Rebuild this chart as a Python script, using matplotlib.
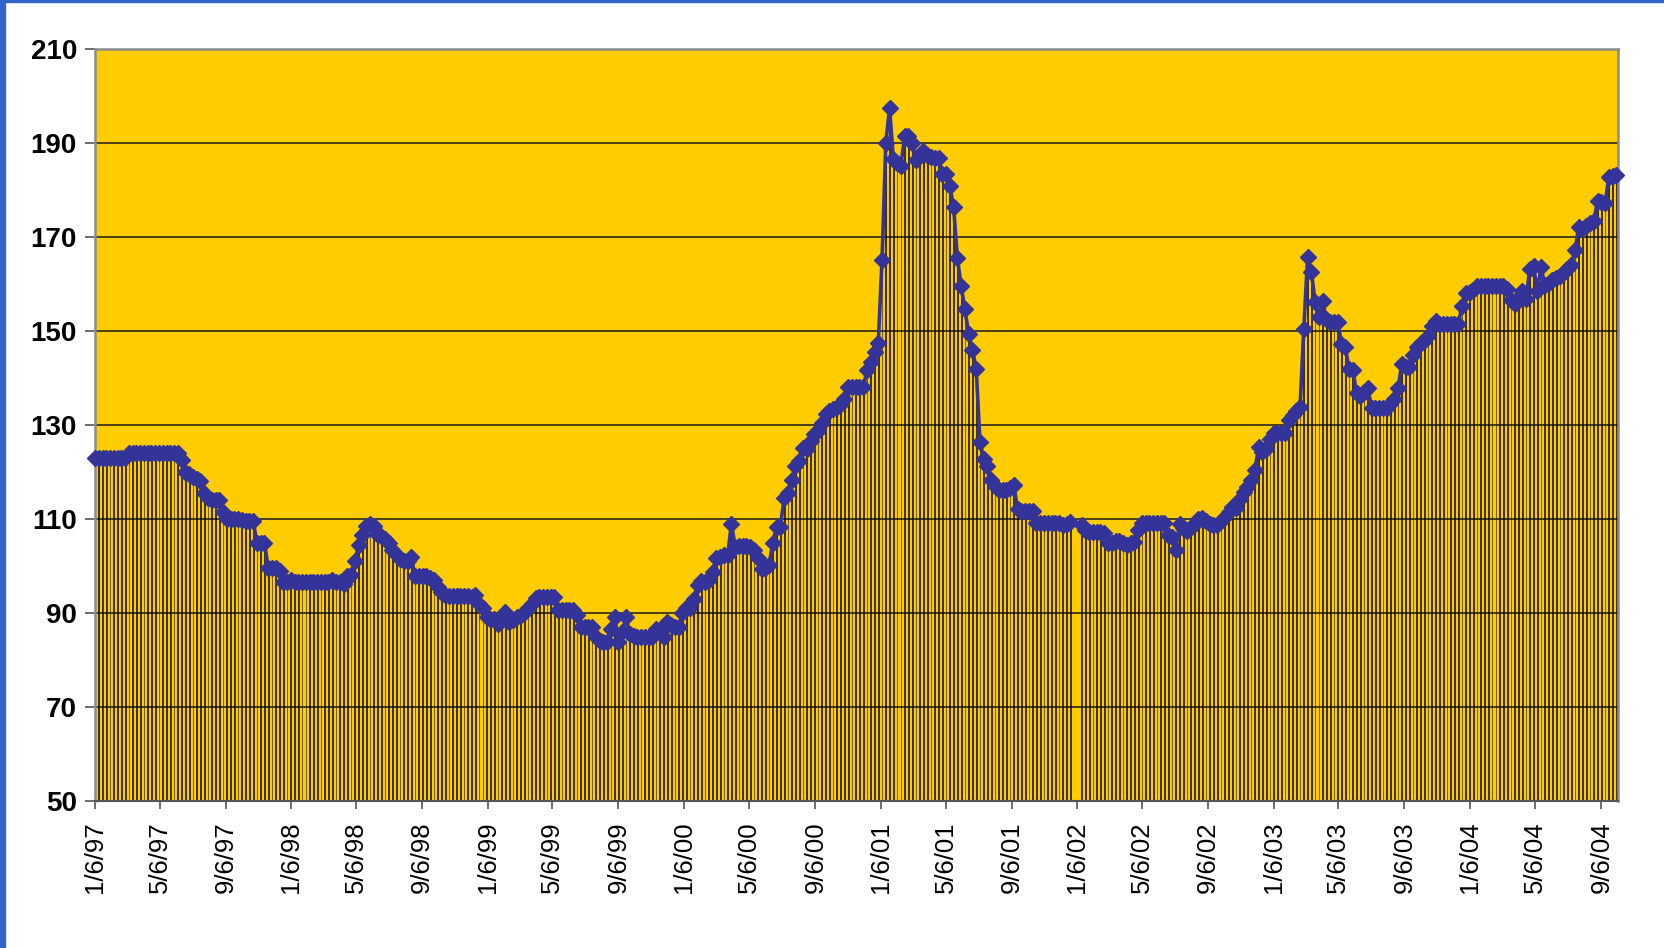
import numpy as np
import pandas as pd
import matplotlib
matplotlib.use("Agg")
import matplotlib.pyplot as plt
from matplotlib.patches import Rectangle

plt.rcParams['font.family'] = ['Liberation Sans', 'DejaVu Sans']

# weekly series starting Monday 1/6/97 (None = week with no data)
start_date = "1997-01-06"
values = [
    123, 123, 123, 123, 123, 123, 123, 123, 123, 124,
    124, 124, 124, 124, 124, 124, 124, 124, 124, 124,
    124, 124, 124, 122.5, 120, 119.5, 119, 118.5, 118, 115.5,
    114.5, 114, 114, 114, 111.5, 110, 110, 110, 110, 109.8,
    109.5, 109.5, 109.5, 105, 105, 105, 99.5, 99.5, 99.5, 99,
    96.5, 96.5, 97, 96.5, 96.5, 96.5, 96.5, 96.5, 96.5, 96.5,
    96.5, 96.5, 96.5, 97, 96.5, 96.5, 96.2, 97.8, 98, 101,
    104.4, 106.5, 108.5, 109, 108.5, 106.8, 106.4, 105.8, 104.8, 103.5,
    102.5, 101.5, 101, 101, 102, 97.8, 97.9, 97.9, 97.9, 97.5,
    97, 95.5, 94.5, 93.8, 93.6, 93.6, 93.6, 93.6, 93.6, 93.6,
    93.5, 93.8, 92, 91, 89.1, 88.8, 88.8, 87.7, 88.5, 90.2,
    88.1, 88.5, 89.1, 89.5, 90, 91, 92, 93.1, 93.5, 93.5,
    93.5, 93.5, 93.5, 90.7, 90.6, 90.6, 90.6, 90.6, 89.5, 87.1,
    87, 87, 87, 84.8, 84, 83.8, 83.8, 86.6, 89.1, 83.8,
    85.9, 89.1, 85.6, 85.2, 85, 85, 85, 85, 85, 86.6,
    86.3, 84.9, 88.1, 87.5, 87, 87, 89.9, 91.1, 91, 93,
    96, 96.8, 96.6, 97, 98.8, 101.8, 102, 102.3, 102.3, 109,
    104.1, 104.3, 104.3, 104.3, 104, 103.4, 101.6, 99.3, 99.5, 100.2,
    105, 108.4, 108.4, 114.5, 115.5, 118.4, 121.2, 122.3, 125.2, 124.8,
    126.5, 128, 128.7, 130.5, 132.3, 133, 133.5, 133.9, 134.5, 135.5,
    138, 138, 138, 138, 138, 141.6, 143.4, 145.5, 147.5, 165.2,
    190, 197.5, 186.5, 185.8, 185.2, 191.4, 191.4, 190, 186.3, 187.5,
    188.4, 187.4, 187, 186.9, 186.9, 183.5, 183.3, 180.9, 176.4, 165.6,
    159.6, 154.6, 149.4, 145.9, 142, 126.4, 122.8, 121.3, 118.4, 117,
    116.1, 116.1, 116.1, 116.5, 117.2, 112.1, 111.8, 111.6, 111.6, 111.6,
    109.1, 109.1, 109.1, 109.1, 109.1, 109.1, 109.1, 108.7, 109, 109.4,
    None, None, 108.8, 107.6, 107.2, 107.2, 107.2, 107.2, 107, 104.8,
    105, 105.3, 105.3, 105, 104.5, 104.8, 105.1, 107.6, 109.1, 109.1,
    109.1, 109.1, 109.1, 109.1, 109.1, 106.7, 106.2, 103.5, 109, 108,
    107.4, 108.3, 109, 110.1, 110.2, 109.5, 109, 108.8, 108.7, 109.5,
    110.4, 111.5, 112.6, 112.3, 114.3, 115.7, 116.8, 118.2, 120.4, 125.3,
    124.3, 125, 127, 128.4, 128.4, 128.4, 128.4, 131, 132.1, 133,
    133.8, 150.5, 165.7, 162.6, 156.2, 153, 156.3, 152.5, 152, 152,
    152, 147.3, 146.6, 142, 141.8, 136.8, 136.2, 137, 137.8, 133.7,
    133.7, 133.7, 133.7, 133.7, 134.5, 135.5, 137.8, 142.9, 142.4, 142.4,
    145, 146.5, 147.5, 147.9, 148.9, 151.1, 152.1, 151.5, 151.4, 151.4,
    151.4, 151.4, 151.4, 155.4, 158, 158.3, 158.8, 159.5, 159.5, 159.5,
    159.5, 159.5, 159.5, 159.5, 159.5, 159, 156.7, 155.8, 157, 158.5,
    156.9, 163.2, 163.8, 158.5, 163.6, 159.7, 160.3, 160.8, 161.2, 161.7,
    162.5, 163.1, 164, 167.2, 172.1, 171.6, 172.3, 173, 173.5, 177.6,
    177.4, 177.2, 182.7, 183, 183.2,
]

tick_labels = ["1/6/97", "5/6/97", "9/6/97", "1/6/98", "5/6/98", "9/6/98",
               "1/6/99", "5/6/99", "9/6/99", "1/6/00", "5/6/00", "9/6/00",
               "1/6/01", "5/6/01", "9/6/01", "1/6/02", "5/6/02", "9/6/02",
               "1/6/03", "5/6/03", "9/6/03", "1/6/04", "5/6/04", "9/6/04"]

dates = pd.date_range(start_date, periods=len(values), freq="7D")
s = pd.Series(values, index=dates, dtype=float).dropna()

fig = plt.figure(figsize=(16.64, 9.48), dpi=100)
ax = fig.add_axes([95 / 1664, 1 - 801 / 948, (1618 - 95) / 1664, (801 - 49) / 948])
ax.set_facecolor('#FFCC00')

# slide border (blue strip at left and top)
fig.patches.append(Rectangle((0, 0), 4.5 / 1664, 1, transform=fig.transFigure,
                             color='#3263C6', zorder=0))
fig.patches.append(Rectangle((0, 1 - 2 / 948), 1, 2 / 948, transform=fig.transFigure,
                             color='#3263C6', zorder=0))

base = 50
ax.bar(s.index, s.values - base, bottom=base, width=1.4,
       facecolor='#0a0a0a', edgecolor='#0a0a0a', linewidth=0.4, zorder=2)
ax.plot(s.index, s.values, color='#333399', lw=2.6, marker='D', markersize=8.5,
        markeredgecolor='#333399', zorder=4, clip_on=False)

ax.set_ylim(50, 210)
ax.set_yticks(np.arange(50, 211, 20))
ax.yaxis.grid(True, color='#1a1a1a', lw=1.1, zorder=1)
ax.set_axisbelow(True)

tick_dates = pd.to_datetime(tick_labels, format="%m/%d/%y")
ax.set_xticks(tick_dates)
ax.set_xticklabels(tick_labels, rotation=90, fontsize=18.5)
ax.set_xlim(dates[0], dates[-1] + pd.Timedelta(days=3))

for lab in ax.get_yticklabels():
    lab.set_fontweight('bold')
    lab.set_fontsize(20)
ax.tick_params(axis='y', length=7, width=1.2, color='#555555', pad=6)
ax.tick_params(axis='x', length=6, width=1.2, color='#555555', pad=9)

for side in ['left', 'right', 'top']:
    ax.spines[side].set_color('#8c8c8c')
    ax.spines[side].set_linewidth(1.8)
ax.spines['bottom'].set_color('#555555')
ax.spines['bottom'].set_linewidth(1.5)

fig.savefig("out.png", dpi=100)
